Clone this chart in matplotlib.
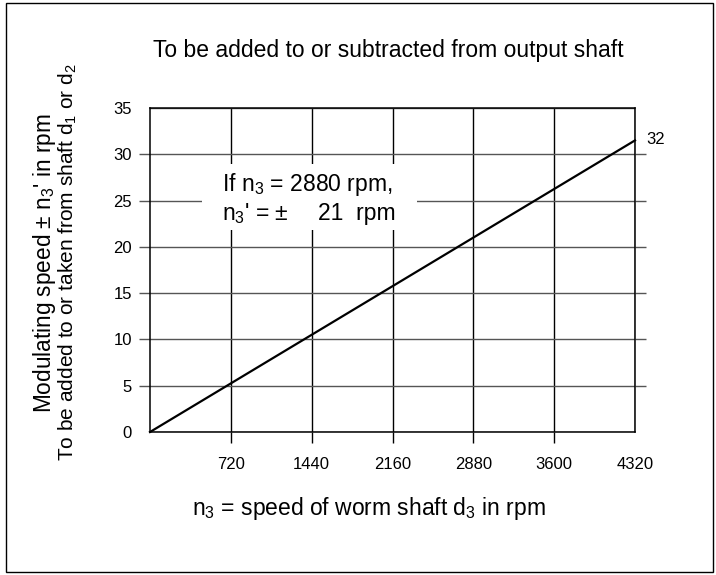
import matplotlib
matplotlib.use("Agg")
import matplotlib.pyplot as plt
from matplotlib.patches import Rectangle

plt.rcParams['font.family'] = ['Liberation Sans', 'DejaVu Sans']
plt.rcParams['mathtext.fontset'] = 'custom'
plt.rcParams['mathtext.rm'] = 'Liberation Sans'
plt.rcParams['mathtext.it'] = 'Liberation Sans:italic'

# 数据
worm_speed = [0, 4320]          # n3, rpm
modulating_speed = [0, 31.5]    # n3', rpm
x_ticks = [720, 1440, 2160, 2880, 3600, 4320]
y_ticks = [0, 5, 10, 15, 20, 25, 30, 35]
end_label = "32"

fig = plt.figure(figsize=(7.16, 5.75), dpi=100)
ax = fig.add_axes([150 / 716, 1 - 432 / 575, 485 / 716, 324 / 575])

ax.plot(worm_speed, modulating_speed, color='black', lw=1.6, zorder=4, clip_on=False)
ax.set_xlim(0, 4320)
ax.set_ylim(0, 35)

ax.set_xticks(x_ticks)
ax.set_yticks(y_ticks)
ax.tick_params(axis='x', direction='out', length=8, width=1, pad=10, labelsize=12)
ax.tick_params(axis='y', direction='out', length=8, width=1, color='#555555',
               pad=5, labelsize=12, right=True, labelright=False)
ax.xaxis.get_major_ticks()[-1].tick1line.set_visible(False)
for i in (0, -1):
    ax.yaxis.get_major_ticks()[i].tick1line.set_visible(False)
    ax.yaxis.get_major_ticks()[i].tick2line.set_visible(False)

ax.grid(axis='x', color='black', lw=1)
ax.grid(axis='y', color='#555555', lw=1)
for s in ax.spines.values():
    s.set_linewidth(1.1)

# 注释框（遮住网格线）
ax.add_patch(Rectangle((460, 21.8), 1920, 7.1, facecolor='white', edgecolor='none', zorder=3))
ax.text(640, 26.7, r'If $\mathregular{n_3}$ = 2880 rpm,', fontsize=16.5, va='center', ha='left', zorder=5)
ax.text(640, 23.6, r"$\mathregular{n_3}$' = ±", fontsize=16.5, va='center', ha='left', zorder=5)
ax.text(2190, 23.6, '21  rpm', fontsize=16.5, va='center', ha='right', zorder=5)

ax.annotate(end_label, xy=(4320, modulating_speed[-1]), xytext=(8, 1),
            textcoords='offset points', fontsize=12, va='center', ha='left')

fig.text(369 / 716, 1 - 508 / 575,
         r'$\mathregular{n_3}$ = speed of worm shaft $\mathregular{d_3}$ in rpm',
         fontsize=16.5, ha='center', va='center')
fig.text(388 / 716, 1 - 50 / 575, 'To be added to or subtracted from output shaft',
         fontsize=16.5, ha='center', va='center')
fig.text(45 / 716, 1 - 263 / 575, r"Modulating speed ± $\mathregular{n_3}$' in rpm",
         fontsize=16.3, rotation=90, ha='center', va='center')
fig.text(68 / 716, 1 - 262 / 575,
         r'To be added to or taken from shaft $\mathregular{d_1}$ or $\mathregular{d_2}$',
         fontsize=15, rotation=90, ha='center', va='center')

# 外框
fig.add_artist(Rectangle((6 / 716, 3 / 575), 707 / 716, 569 / 575, transform=fig.transFigure,
                         fill=False, edgecolor='black', lw=1))

fig.savefig('out.png', dpi=100)
